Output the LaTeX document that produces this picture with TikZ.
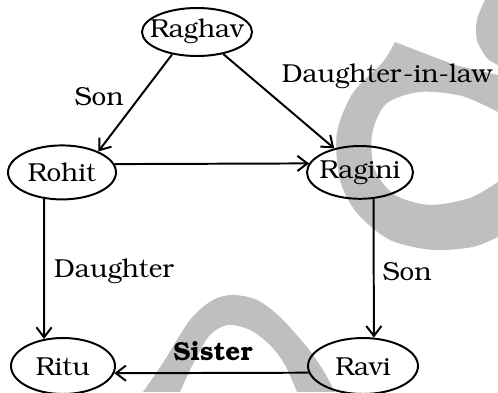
\documentclass[tikz,border=0pt]{standalone}
\usepackage[T1]{fontenc}
\usepackage{bookman}
\usetikzlibrary{arrows.meta,shapes.geometric}

\begin{document}
\begin{tikzpicture}[
  >={Straight Barb[length=2.5mm,width=3.8mm]},
  line width=1.4pt,
  person/.style={draw, ellipse, inner sep=0pt, minimum width=2.7cm, minimum height=1.35cm},
  rel/.style={->},
  logo/.style={fill=black!25, draw=none},
  every node/.style={font=\fontsize{18.5}{22}\selectfont}
]
\useasboundingbox (0,0) rectangle (12.45,9.8);

% --- Watermark in the background ---
\begin{scope}[x=0.025cm, y=-0.025cm, yshift=9.8cm]
  \fill[logo] (395,42) -- (455,65) -- (498,75) -- (498,112)
    -- plot[smooth] coordinates {(498,112) (462,96) (420,92) (386,104) (372,135)
                                 (375,170) (395,195) (430,205) (470,198) (498,182)}
    -- (498,237)
    -- plot[smooth] coordinates {(498,237) (473,247) (433,250) (390,240) (357,213)
                                 (340,180) (337,133) (353,93) (383,62) (395,42)}
    -- cycle;
  \fill[logo] (498,0) -- plot[smooth] coordinates {(485,0) (477,20) (477,40) (487,58) (498,65)} -- cycle;
  \fill[logo] plot[smooth] coordinates {(143,392) (163,363) (190,320) (213,300) (233,295)
                                        (257,300) (280,317) (307,347) (323,370) (335,392)}
    -- plot[smooth] coordinates {(297,392) (285,365) (270,345) (250,330) (228,325)
                                 (210,335) (195,360) (180,392)}
    -- cycle;
\end{scope}

% --- Family members ---
\node[person, minimum width=2.75cm, minimum height=1.2cm, label=center:Raghav] (raghav) at (4.925,9.0) {};
\node[person, minimum width=2.7cm, label=center:Rohit] (rohit) at (1.55,5.49) {};
\node[person, minimum width=2.65cm, minimum height=1.32cm, label=center:Ragini] (ragini) at (9.0,5.49) {};
\node[person, minimum width=2.6cm, minimum height=1.4cm, label=center:Ritu] (ritu) at (1.575,0.65) {};
\node[person, minimum width=2.75cm, minimum height=1.4cm, label=center:Ravi] (ravi) at (9.075,0.65) {};

% --- Relations ---
\draw[rel] (raghav.222) -- (rohit.30);
\draw[rel] (raghav.320) -- (ragini.137);
\draw[rel] (rohit.9) -- (ragini.170);
\draw[rel] (rohit.236) -- (ritu.125);
\draw[rel] (ragini.297) -- (ravi.69);
\draw[rel] (ravi.187) -- (ritu.352);

% --- Relation labels ---
\node (sonA) at (2.475,7.375) {Son};
\node (dil) at (9.675,7.875) {Daughter-in-law};
\node (dau) at (2.85,3.0) {Daughter};
\node (sonB) at (10.175,3.0) {Son};
\node[font=\fontsize{18.5}{22}\selectfont\bfseries] (sis) at (5.325,1.0) {Sister};

\end{tikzpicture}
\end{document}
